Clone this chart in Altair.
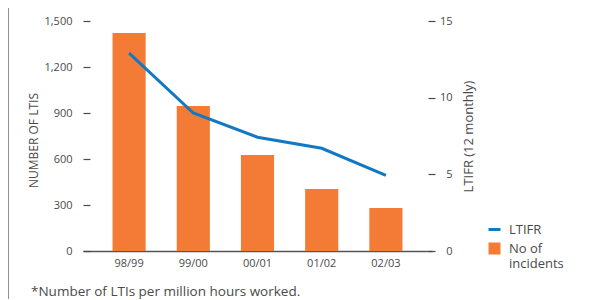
import altair as alt
import pandas as pd

periods = ["98/99", "99/00", "00/01", "01/02", "02/03"]
incidents = [1422, 946, 626, 404, 280]
ltifr = [12.9, 9.0, 7.42, 6.7, 4.93]
series = ["LTIFR", "No of incidents"]
left_ticks = [0, 300, 600, 900, 1200, 1500]
right_ticks = [0, 5, 10, 15]
footnote = ["*Number of LTIs per million hours worked."]

ORANGE = "#F37B35"
BLUE = "#1179C2"
GREY = "#4a4a4a"
FONT = "Open Sans"

df = pd.DataFrame({"period": periods, "incidents": incidents, "ltifr": ltifr})
leg = pd.DataFrame({"series": series})
notes = pd.DataFrame({"note": footnote})

x = alt.X("period:N", sort=periods, title=None,
          scale=alt.Scale(paddingInner=0.484, paddingOuter=0.46),
          axis=alt.Axis(labelAngle=0, ticks=False, domainColor="#555555",
                        domainWidth=1.5, labelPadding=6, labelFontSize=11,
                        labelColor=GREY, labelFont=FONT))

bars = alt.Chart(df).mark_bar(color=ORANGE).encode(
    x=x,
    y=alt.Y("incidents:Q", title="NUMBER OF LTIS",
            scale=alt.Scale(domain=[0, 1500], nice=False),
            axis=alt.Axis(values=left_ticks, format=",.0f", domain=False, grid=False,
                          offset=-7, tickSize=7, tickColor=GREY, tickWidth=1.2,
                          labelPadding=11, labelFontSize=11, labelColor=GREY,
                          labelFont=FONT, titleFont=FONT, titleFontSize=12,
                          titleFontWeight="normal", titleColor=GREY,
                          titleAngle=270, titleX=-57, titleY=119,
                          titleBaseline="middle", titleAlign="center")),
)

line = alt.Chart(df).mark_line(color=BLUE, strokeWidth=3).encode(
    x=x,
    y=alt.Y("ltifr:Q", title="LTIFR (12 monthly)",
            scale=alt.Scale(domain=[0, 15], nice=False),
            axis=alt.Axis(orient="right", values=right_ticks, domain=False, grid=False,
                          offset=-4, tickSize=7, tickColor=GREY, tickWidth=1.2,
                          labelPadding=17, labelAlign="right", labelFontSize=11,
                          labelColor=GREY, labelFont=FONT, titleFont=FONT,
                          titleFontSize=13, titleFontWeight="normal",
                          titleColor=GREY, titleAngle=270, titlePadding=23)),
)

legend_cfg = alt.Legend(
    title=None, orient="none", legendX=405, legendY=202,
    padding=0, symbolOpacity=1, symbolSize=144,
    symbolStrokeWidth=0, labelOffset=8, labelFontSize=13,
    labelFont=FONT, labelColor=GREY, rowPadding=5,
    labelExpr="datum.label == 'No of incidents' ? ['No of', 'incidents'] : datum.label")

legend_layer = alt.Chart(leg).mark_point(opacity=0, filled=True).encode(
    color=alt.Color("series:N",
                    scale=alt.Scale(domain=series, range=[BLUE, ORANGE]),
                    legend=legend_cfg),
    shape=alt.Shape("series:N",
                    scale=alt.Scale(domain=series,
                                    range=["M-1,-0.25H1V0.25H-1Z", "M-1,-1H1V1H-1Z"]),
                    legend=legend_cfg),
)

frame = alt.Chart(leg).mark_rule(color="#8a8a8a", strokeWidth=1.5).encode(
    x=alt.value(-75), y=alt.value(-13), y2=alt.value(285)
)

note = alt.Chart(notes).mark_text(
    align="left", baseline="middle", font=FONT, fontSize=13.5, color=GREY
).encode(text="note:N", x=alt.value(-52), y=alt.value(271))

chart = alt.layer(bars, line, legend_layer, frame, note).resolve_scale(
    y="independent"
).properties(
    width=349, height=230,
    autosize=alt.AutoSizeParams(type="none"),
    padding={"left": 75, "top": 13, "right": 145, "bottom": 48},
).configure_view(stroke=None)

chart.save("out.html", embed_options={"renderer": "svg", "actions": False})
